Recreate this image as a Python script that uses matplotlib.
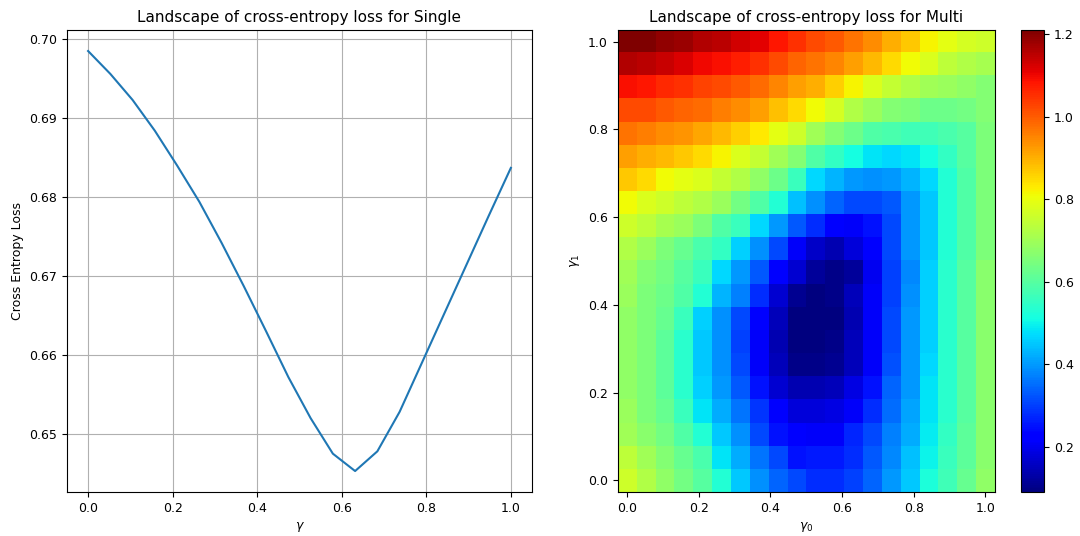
import numpy as np
import matplotlib
matplotlib.use("Agg")
import matplotlib.pyplot as plt

# Single-parameter sweep
gamma = np.linspace(0.0, 1.0, 20)
single_loss = [0.6985, 0.6956, 0.6923, 0.6884, 0.6840, 0.6794, 0.6742, 0.6687,
               0.6630, 0.6572, 0.6520, 0.6475, 0.6453, 0.6478, 0.6528, 0.6590,
               0.6652, 0.6714, 0.6776, 0.6837]

# Two-parameter sweep: rows run from gamma_1 = 1 (top) down to gamma_1 = 0
gamma0 = np.linspace(0.0, 1.0, 20)
gamma1 = np.linspace(0.0, 1.0, 20)
multi_loss_rows = [
    [1.21, 1.21, 1.19, 1.18, 1.16, 1.15, 1.13, 1.11, 1.08, 1.05, 1.02, 1.00, 0.97, 0.94, 0.90, 0.87, 0.82, 0.79, 0.77, 0.76],
    [1.16, 1.15, 1.14, 1.12, 1.10, 1.09, 1.07, 1.05, 1.02, 0.99, 0.97, 0.95, 0.92, 0.89, 0.85, 0.81, 0.78, 0.74, 0.72, 0.71],
    [1.09, 1.08, 1.06, 1.05, 1.03, 1.02, 1.00, 0.98, 0.95, 0.92, 0.90, 0.86, 0.82, 0.78, 0.75, 0.72, 0.70, 0.69, 0.68, 0.66],
    [1.02, 1.02, 1.00, 0.99, 0.98, 0.96, 0.94, 0.92, 0.88, 0.85, 0.81, 0.77, 0.72, 0.69, 0.66, 0.65, 0.63, 0.63, 0.64, 0.66],
    [0.97, 0.96, 0.94, 0.93, 0.91, 0.89, 0.86, 0.83, 0.79, 0.76, 0.70, 0.66, 0.63, 0.59, 0.58, 0.57, 0.57, 0.58, 0.60, 0.65],
    [0.92, 0.90, 0.89, 0.87, 0.85, 0.82, 0.78, 0.75, 0.70, 0.66, 0.59, 0.55, 0.51, 0.48, 0.47, 0.48, 0.51, 0.55, 0.60, 0.65],
    [0.87, 0.85, 0.81, 0.79, 0.78, 0.75, 0.72, 0.68, 0.63, 0.56, 0.47, 0.43, 0.40, 0.39, 0.40, 0.43, 0.47, 0.53, 0.59, 0.65],
    [0.81, 0.78, 0.76, 0.74, 0.72, 0.69, 0.64, 0.59, 0.53, 0.44, 0.39, 0.34, 0.31, 0.31, 0.33, 0.40, 0.45, 0.53, 0.59, 0.65],
    [0.76, 0.74, 0.71, 0.69, 0.65, 0.59, 0.56, 0.47, 0.40, 0.33, 0.28, 0.22, 0.21, 0.25, 0.31, 0.40, 0.45, 0.53, 0.59, 0.65],
    [0.72, 0.69, 0.65, 0.62, 0.58, 0.55, 0.46, 0.39, 0.31, 0.21, 0.16, 0.14, 0.18, 0.22, 0.31, 0.40, 0.45, 0.53, 0.59, 0.65],
    [0.70, 0.66, 0.64, 0.60, 0.56, 0.47, 0.40, 0.33, 0.22, 0.17, 0.12, 0.10, 0.12, 0.20, 0.30, 0.38, 0.46, 0.54, 0.60, 0.67],
    [0.69, 0.65, 0.63, 0.59, 0.53, 0.43, 0.37, 0.28, 0.17, 0.11, 0.09, 0.10, 0.15, 0.21, 0.30, 0.39, 0.46, 0.54, 0.60, 0.67],
    [0.68, 0.65, 0.62, 0.56, 0.46, 0.39, 0.31, 0.22, 0.15, 0.09, 0.09, 0.09, 0.14, 0.21, 0.31, 0.40, 0.46, 0.54, 0.60, 0.67],
    [0.68, 0.65, 0.61, 0.54, 0.45, 0.39, 0.30, 0.21, 0.14, 0.09, 0.09, 0.10, 0.15, 0.21, 0.31, 0.40, 0.46, 0.54, 0.60, 0.67],
    [0.68, 0.65, 0.61, 0.54, 0.45, 0.39, 0.31, 0.21, 0.15, 0.10, 0.10, 0.11, 0.15, 0.21, 0.32, 0.40, 0.47, 0.54, 0.60, 0.67],
    [0.68, 0.65, 0.61, 0.54, 0.46, 0.40, 0.33, 0.25, 0.17, 0.14, 0.14, 0.15, 0.19, 0.25, 0.34, 0.40, 0.48, 0.54, 0.60, 0.67],
    [0.69, 0.65, 0.62, 0.56, 0.48, 0.42, 0.36, 0.29, 0.22, 0.18, 0.18, 0.19, 0.21, 0.28, 0.35, 0.41, 0.48, 0.54, 0.60, 0.67],
    [0.70, 0.67, 0.64, 0.59, 0.53, 0.45, 0.39, 0.31, 0.25, 0.22, 0.21, 0.21, 0.27, 0.31, 0.37, 0.42, 0.49, 0.55, 0.61, 0.67],
    [0.74, 0.70, 0.66, 0.62, 0.58, 0.48, 0.42, 0.36, 0.31, 0.25, 0.26, 0.26, 0.28, 0.33, 0.38, 0.44, 0.50, 0.56, 0.61, 0.67],
    [0.76, 0.72, 0.68, 0.64, 0.60, 0.53, 0.45, 0.39, 0.34, 0.31, 0.28, 0.28, 0.30, 0.34, 0.40, 0.45, 0.52, 0.57, 0.62, 0.68],
]

plt.rcParams["font.family"] = "DejaVu Sans"
plt.rcParams["font.size"] = 9

fig = plt.figure(figsize=(10.8, 5.36), dpi=100)

# Left: loss curve over a single gamma
ax1 = fig.add_axes([0.062, 0.082, 0.4306, 0.862])
ax1.plot(gamma, single_loss, color="#1f77b4", linewidth=1.5)
ax1.grid(True)
ax1.set_xlabel(r"$\gamma$", fontsize=9)
ax1.set_ylabel("Cross Entropy Loss", fontsize=9)
ax1.set_title("Landscape of cross-entropy loss for Single", fontsize=11)
ax1.set_yticks([0.65, 0.66, 0.67, 0.68, 0.69, 0.70])

# Right: loss landscape over (gamma_0, gamma_1)
ax2 = fig.add_axes([0.572, 0.082, 0.349, 0.862])
Z = np.array(multi_loss_rows)
dx = (gamma0[1] - gamma0[0]) / 2
dy = (gamma1[1] - gamma1[0]) / 2
im = ax2.imshow(Z, cmap="jet", origin="upper", aspect="auto",
                interpolation="nearest",
                extent=[gamma0[0] - dx, gamma0[-1] + dx, gamma1[0] - dy, gamma1[-1] + dy])
ax2.set_xlabel(r"$\gamma_0$", fontsize=9)
ax2.set_ylabel(r"$\gamma_1$", fontsize=9)
ax2.set_title("Landscape of cross-entropy loss for Multi", fontsize=11)
ax2.set_xticks([0.0, 0.2, 0.4, 0.6, 0.8, 1.0])
ax2.set_yticks([0.0, 0.2, 0.4, 0.6, 0.8, 1.0])

cax = fig.add_axes([0.945, 0.082, 0.022, 0.862])
cb = fig.colorbar(im, cax=cax)
cb.set_ticks([0.2, 0.4, 0.6, 0.8, 1.0, 1.2])

fig.savefig("out.png", dpi=100)
